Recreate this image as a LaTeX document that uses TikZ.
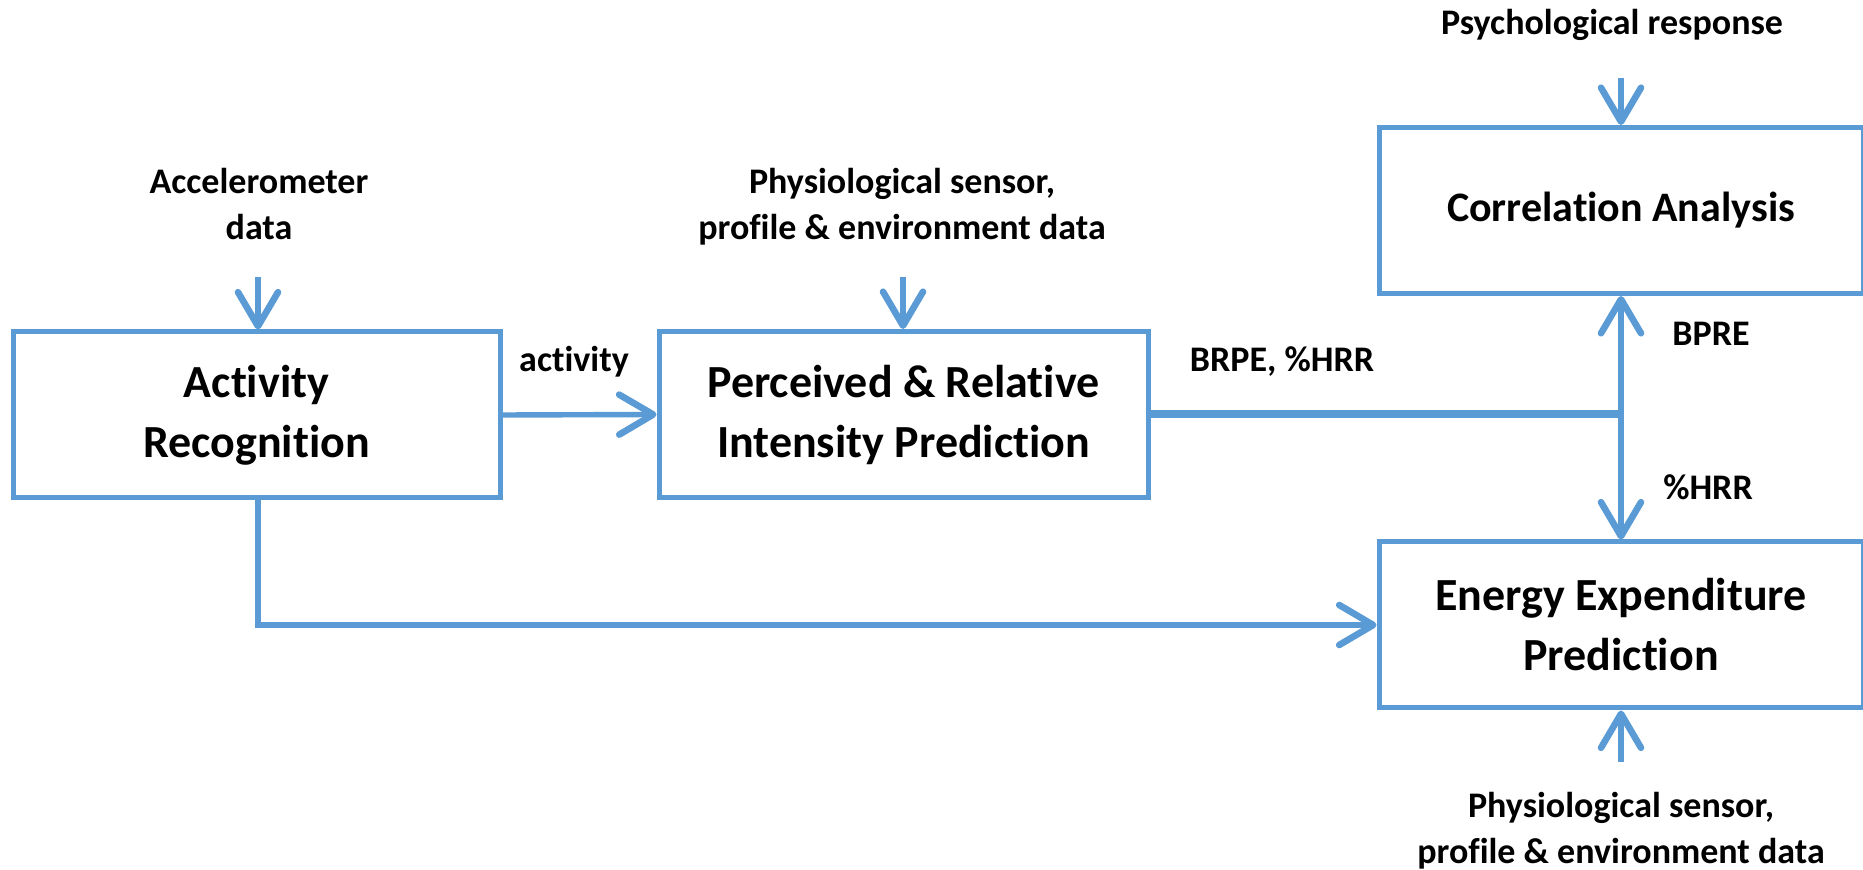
\documentclass[tikz,border=0pt]{standalone}
\usepackage{fontspec}
\setmainfont{Carlito}[Ligatures=NoCommon]
\usetikzlibrary{arrows.meta}
\definecolor{officeblue}{HTML}{5B9BD5}
\begin{document}
\begin{tikzpicture}[x=0.5pt,y=-0.5pt,
  box/.style={draw=officeblue, line width=2.5pt, rectangle, minimum height=83pt,
    align=center, inner sep=0pt, font=\bfseries\fontsize{23pt}{30pt}\selectfont},
  lbl/.style={align=center, inner sep=0pt, anchor=base, font=\bfseries\fontsize{18pt}{23pt}\selectfont},
  tip/.style={-{Straight Barb[length=17pt,width=20pt,round,line width=3.3pt]}},
  arr/.style={draw=officeblue, line width=2.7pt, tip},
  conn/.style={draw=officeblue, line width=4pt},
]
\useasboundingbox (0,0) rectangle (1863,870);
\fill[white] (0,0) rectangle (1863,870);

% boxes
\node[box, minimum width=243.5pt] (act) at (256.5,415) {Activity\\Recognition};
\node[box, minimum width=244.5pt] (prip) at (903.5,414.5) {Perceived \& Relative\\Intensity Prediction};
\node[box, minimum width=242pt, font=\bfseries\fontsize{21pt}{30pt}\selectfont] (corr) at (1621,210.5) {Correlation Analysis};
\node[box, minimum width=242pt] (energy) at (1621,625) {Energy Expenditure\\Prediction};

% input labels (base = last line)
\node[lbl] (acc) at (259,240) {Accelerometer\\data};
\node[lbl] (phys1) at (902,240) {Physiological sensor,\\profile \& environment data};
\node[lbl] (psy) at (1612,35) {Psychological response};
\node[lbl] (phys2) at (1621,863) {Physiological sensor,\\profile \& environment data};

% connector labels
\node[lbl] (lact) at (574,372) {activity};
\node[lbl] (lbrpe) at (1282,372) {BRPE, \%HRR};
\node[lbl] (lbpre) at (1711,346) {BPRE};
\node[lbl] (lhrr) at (1708,500) {\%HRR};

% arrow start points
\coordinate (sacc) at (258,277);
\coordinate (sphys1) at (903,277);
\coordinate (spsy) at (1621,78);
\coordinate (sphys2) at (1621,762);
\coordinate (J) at (1621,414.5);

% connectors
\draw[arr] (sacc) -- (sacc |- act.north);
\draw[arr] (sphys1) -- (sphys1 |- prip.north);
\draw[arr] (spsy) -- (corr.north);
\draw[arr] (sphys2) -- (energy.south);
\draw[arr] (act.east) -- (prip.west);
\draw[arr] (act.south -| sacc) |- (energy.west);
\draw[conn] (prip.east) -- (J);
\draw[arr, line width=3.2pt] (J) -- (corr.south);
\draw[arr, line width=3.2pt] (J) -- (energy.north);
\end{tikzpicture}
\end{document}
